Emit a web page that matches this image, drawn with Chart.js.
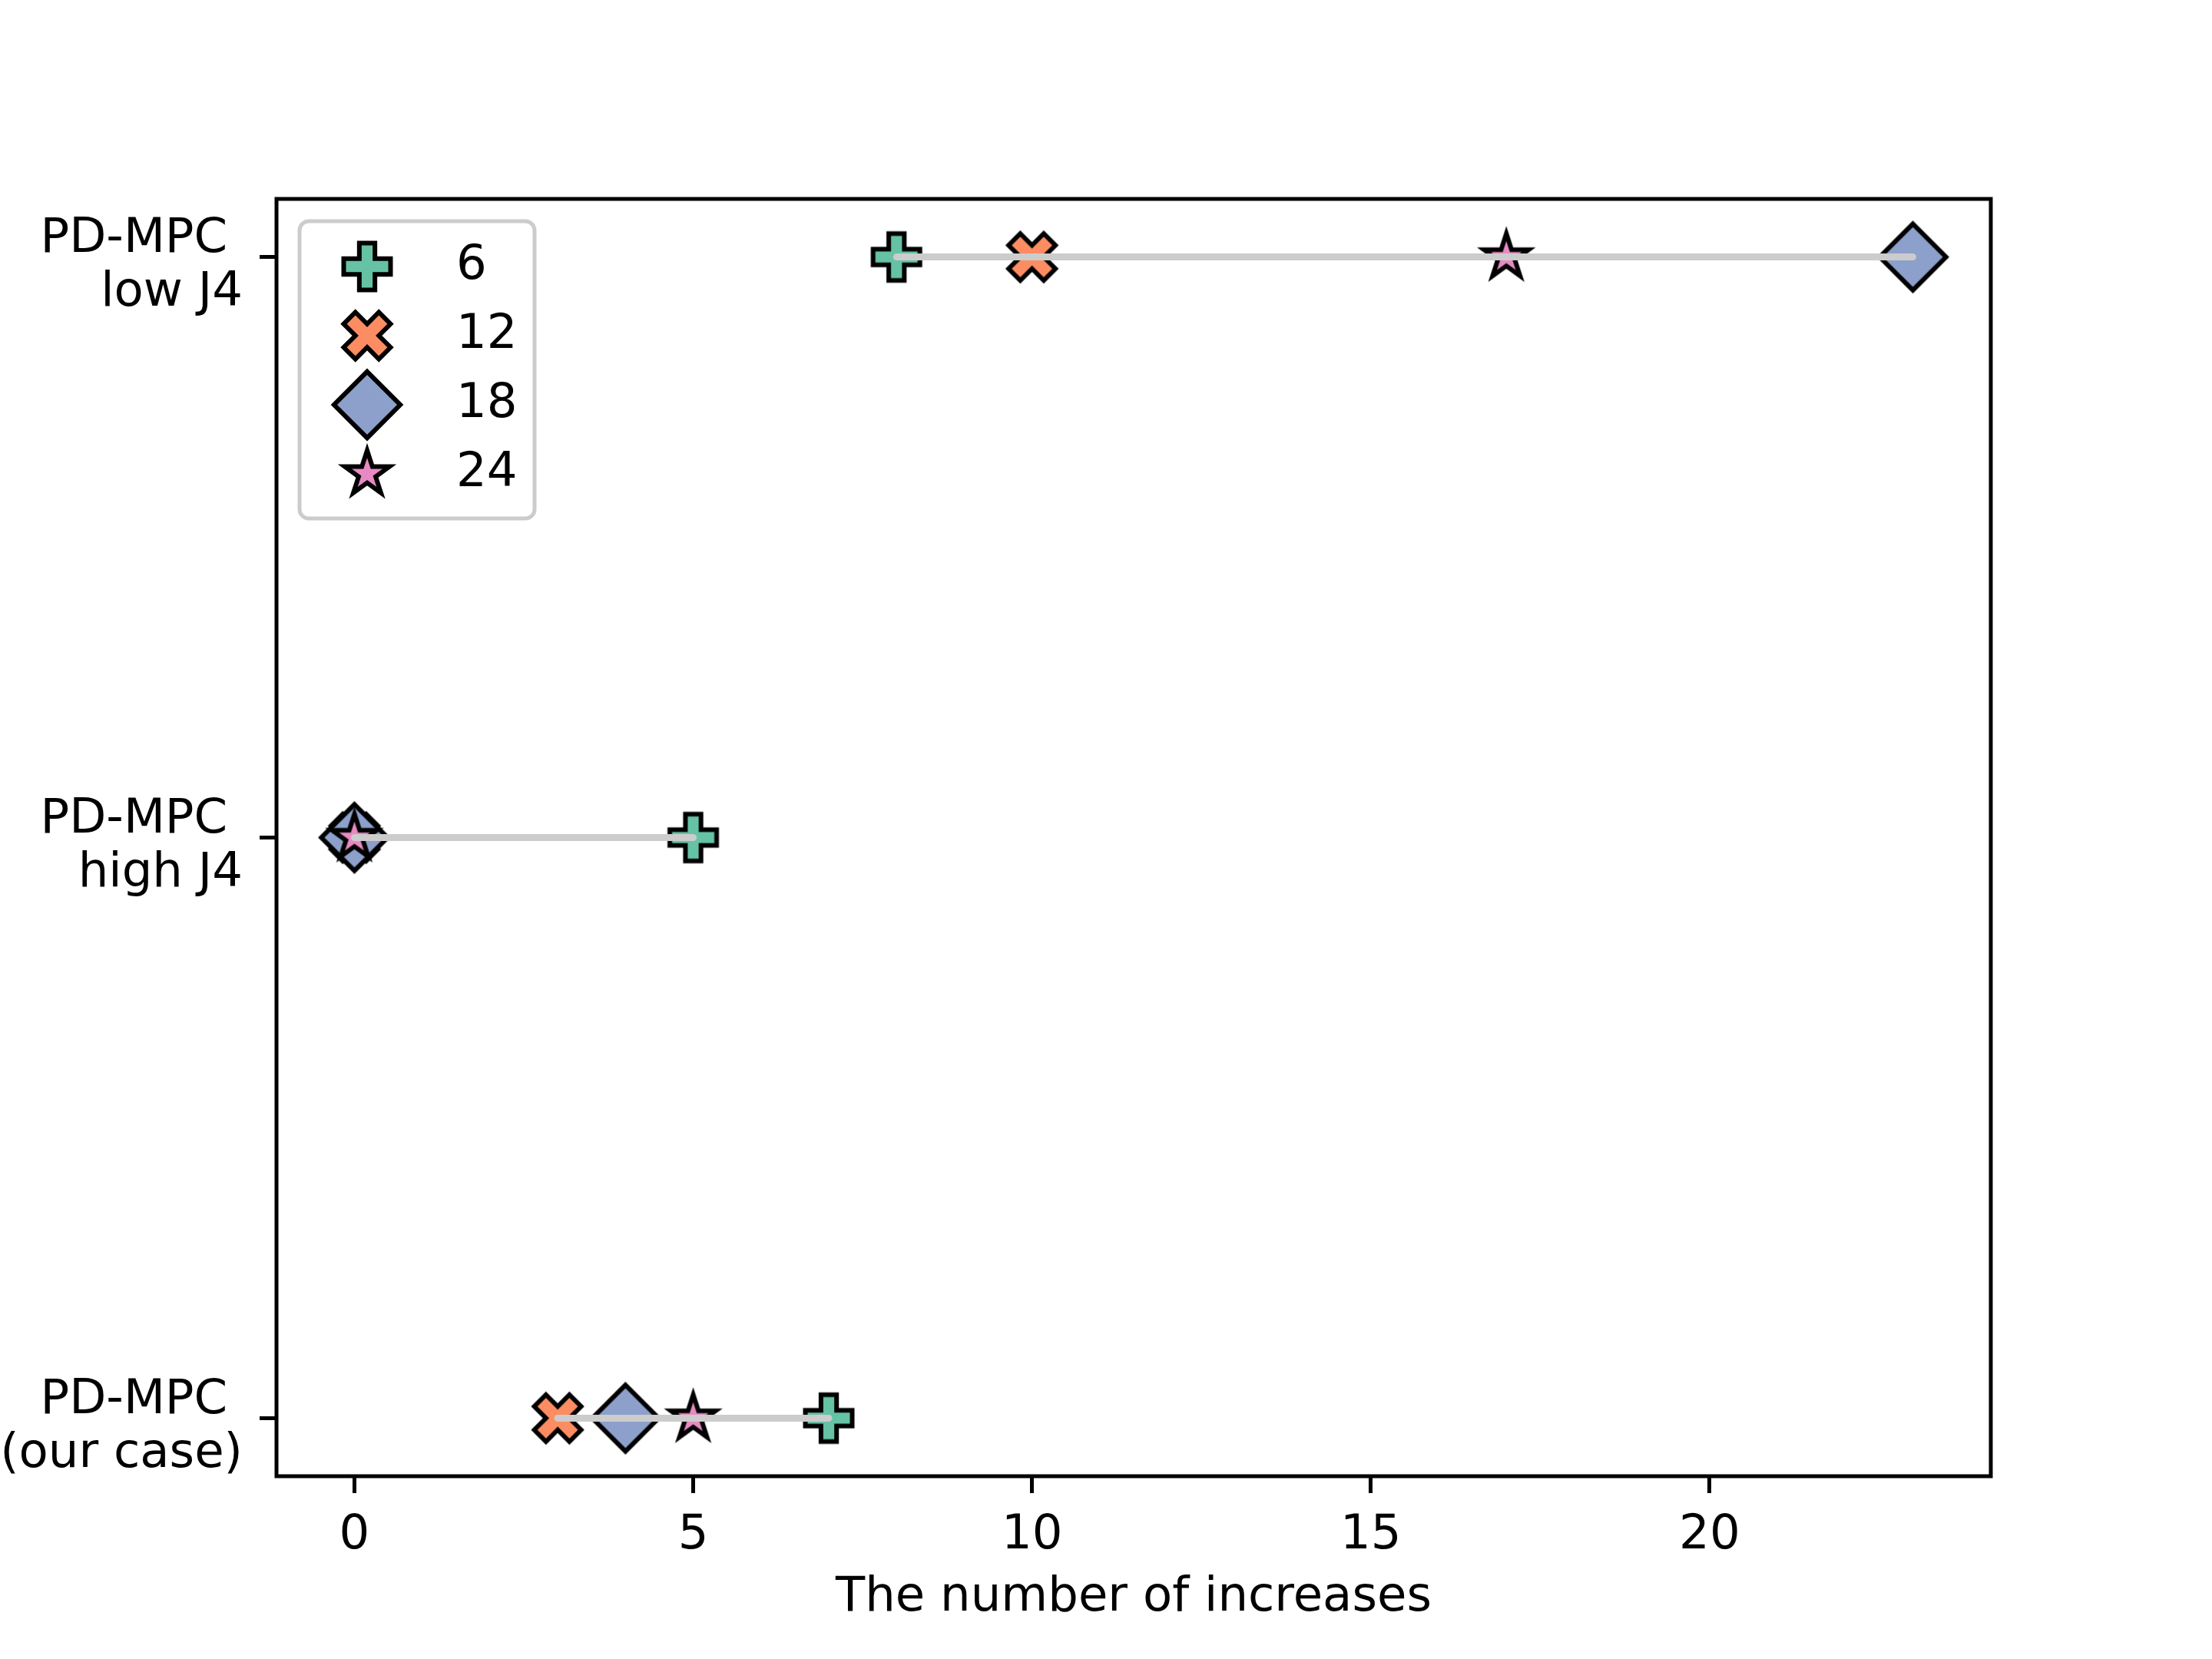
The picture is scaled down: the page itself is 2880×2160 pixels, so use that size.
<!DOCTYPE html>
<html>
<head>
<meta charset="utf-8">
<script src="https://cdn.jsdelivr.net/npm/chart.js@4.4.0/dist/chart.umd.min.js"></script>
<style>
  html, body { margin: 0; padding: 0; background: #fff; }
  #wrap { width: 2880px; height: 2160px; }
</style>
</head>
<body>
<div id="wrap"><canvas id="c" width="2880" height="2160"></canvas></div>
<script>
// rows (top to bottom) and the count of increases for each horizon
var rowLabels = [['PD-MPC ', 'low J4'], ['PD-MPC ', 'high J4'], ['PD-MPC ', '(our case)']];
var horizons = ['6', '12', '18', '24'];
var inc6 = [8, 5, 7];
var inc12 = [10, 0, 3];
var inc18 = [23, 0, 4];
var inc24 = [17, 0, 5];
var xTicks = [0, 5, 10, 15, 20];

var colors = ['#66c2a5', '#fc8d62', '#8da0cb', '#e78ac3'];
var shapes = ['plus', 'x', 'diamond', 'star'];
var series = [inc6, inc12, inc18, inc24];

// filled markers like matplotlib 'P', 'X', 'D', '*'
function makeMarker(shape, fill) {
    var c = document.createElement('canvas');
    c.width = 120;
    c.height = 120;
    var g = c.getContext('2d');
    var S = 61;
    var pts = [];
    if (shape == 'plus') {
        pts = [[-1,-3],[1,-3],[1,-1],[3,-1],[3,1],[1,1],[1,3],[-1,3],[-1,1],[-3,1],[-3,-1],[-1,-1]]
            .map(function(p) { return [p[0] / 6 * S, p[1] / 6 * S]; });
    } else if (shape == 'x') {
        pts = [[-1,-2],[0,-1],[1,-2],[2,-1],[1,0],[2,1],[1,2],[0,1],[-1,2],[-2,1],[-1,0],[-2,-1]]
            .map(function(p) { return [p[0] / 4 * S, p[1] / 4 * S]; });
    } else if (shape == 'diamond') {
        var r = S * Math.SQRT2 / 2;
        pts = [[0,-r],[r,0],[0,r],[-r,0]];
    } else {
        var R = S / 2, ri = R * 0.381966;
        for (var i = 0; i < 10; i++) {
            var a = -Math.PI / 2 + i * Math.PI / 5;
            var rr = (i % 2 == 0) ? R : ri;
            pts.push([rr * Math.cos(a), rr * Math.sin(a)]);
        }
    }
    g.translate(60, 60);
    g.beginPath();
    g.moveTo(pts[0][0], pts[0][1]);
    for (var j = 1; j < pts.length; j++) g.lineTo(pts[j][0], pts[j][1]);
    g.closePath();
    g.fillStyle = fill;
    g.fill();
    g.lineWidth = 6;
    g.lineJoin = 'miter';
    g.strokeStyle = '#000';
    g.stroke();
    return c;
}

var markers = shapes.map(function(s, k) { return makeMarker(s, colors[k]); });

var datasets = [];
// grey range line for every row, from the smallest to the largest value
rowLabels.forEach(function(lab, i) {
    var vals = series.map(function(s) { return s[i]; }).filter(function(v) { return v !== null; });
    datasets.push({
        type: 'line',
        data: [{x: Math.min.apply(null, vals), y: i}, {x: Math.max.apply(null, vals), y: i}],
        borderColor: '#cccccc',
        borderWidth: 9,
        borderCapStyle: 'round',
        pointRadius: 0,
        showLine: true,
        order: 0,
        isRow: true
    });
});
series.forEach(function(s, k) {
    datasets.push({
        label: horizons[k],
        data: s.map(function(v, i) { return {x: v, y: i}; }).filter(function(p) { return p.x !== null; }),
        pointStyle: markers[k],
        pointRadius: 30,
        order: 10 - k
    });
});

var font = {family: 'DejaVu Sans', size: 62.5};

var frame = {
    id: 'frame',
    afterDraw: function(chart) {
        var ctx = chart.ctx, a = chart.chartArea;
        ctx.save();
        ctx.strokeStyle = '#000';
        ctx.lineWidth = 5;
        ctx.strokeRect(a.left, a.top, a.right - a.left, a.bottom - a.top);

        // legend box in the upper left corner
        var lx = a.left + 30, ly = a.top + 29, lw = 306, lh = 387, rad = 12;
        ctx.beginPath();
        ctx.moveTo(lx + rad, ly);
        ctx.arcTo(lx + lw, ly, lx + lw, ly + lh, rad);
        ctx.arcTo(lx + lw, ly + lh, lx, ly + lh, rad);
        ctx.arcTo(lx, ly + lh, lx, ly, rad);
        ctx.arcTo(lx, ly, lx + lw, ly, rad);
        ctx.closePath();
        ctx.fillStyle = 'rgba(255,255,255,0.8)';
        ctx.fill();
        ctx.strokeStyle = '#cccccc';
        ctx.lineWidth = 5;
        ctx.stroke();

        ctx.font = '62.5px "DejaVu Sans"';
        ctx.fillStyle = '#000';
        ctx.textAlign = 'left';
        ctx.textBaseline = 'alphabetic';
        chart.data.datasets.forEach(function(ds) {
            if (ds.isRow) return;
            var k = horizons.indexOf(ds.label);
            var cy = ly + 59 + k * 90;
            var m = ds.pointStyle;
            ctx.drawImage(m, lx + 88 - m.width / 2, cy - m.height / 2);
            ctx.fillText(ds.label, lx + 204, cy + 16);
        });
        ctx.restore();
    }
};

new Chart(document.getElementById('c'), {
    type: 'scatter',
    data: {datasets: datasets},
    options: {
        responsive: false,
        devicePixelRatio: 1,
        animation: false,
        layout: {padding: {left: 0, top: 259, right: 288, bottom: 0}},
        plugins: {legend: {display: false}, tooltip: {enabled: false}},
        scales: {
            x: {
                type: 'linear',
                min: -1.15,
                max: 24.15,
                afterBuildTicks: function(s) { s.ticks = xTicks.map(function(v) { return {value: v}; }); },
                afterFit: function(s) { s.height = 238; },
                grid: {display: true, drawOnChartArea: false, drawTicks: true, tickLength: 22, lineWidth: 5, tickWidth: 5, tickColor: '#000'},
                border: {display: false},
                ticks: {color: '#000', font: font, padding: 18, maxRotation: 0, autoSkip: false},
                title: {display: true, text: 'The number of increases', color: '#000',
                        font: {family: 'DejaVu Sans', size: 62.5, lineHeight: 1.2}, padding: {top: 0, bottom: 42}}
            },
            y: {
                type: 'linear',
                reverse: true,
                min: -0.1,
                max: 2.1,
                afterBuildTicks: function(s) { s.ticks = rowLabels.map(function(l, i) { return {value: i}; }); },
                afterFit: function(s) { s.width = 360; },
                grid: {display: true, drawOnChartArea: false, drawTicks: true, tickLength: 22, lineWidth: 5, tickWidth: 5, tickColor: '#000'},
                border: {display: false},
                ticks: {
                    color: '#000',
                    font: {family: 'DejaVu Sans', size: 62.5, lineHeight: 1.12},
                    padding: 22,
                    labelOffset: 12,
                    autoSkip: false,
                    callback: function(v) { return rowLabels[v]; }
                }
            }
        }
    },
    plugins: [frame]
});
</script>
</body>
</html>
